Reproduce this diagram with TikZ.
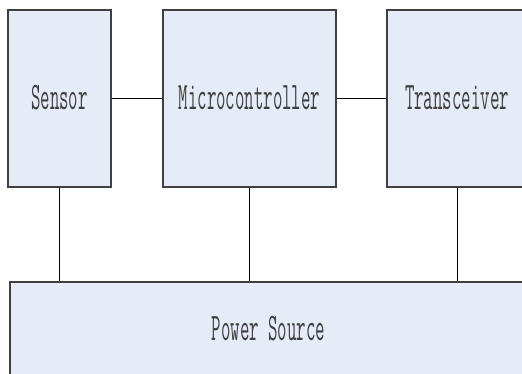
\documentclass[tikz,border=0pt]{standalone}
\usepackage{fontspec}
\newfontfamily\lblfont{Latin Modern Mono}[FakeStretch=0.47]
\definecolor{boxfill}{HTML}{E6ECF7}
\definecolor{boxline}{HTML}{404040}
\begin{document}
\begin{tikzpicture}[x=1pt,y=-1pt,
  blk/.style={draw=boxline, fill=boxfill, line width=1.4pt, inner sep=0pt,
    font=\lblfont\fontsize{39}{43}\selectfont, text=black!75},
  wire/.style={draw=black, line width=1pt}]
\useasboundingbox (0,0) rectangle (522,373);
\node[blk, minimum width=103pt, minimum height=177pt] (sensor) at (59.5,98.5) {\raisebox{2pt}{Sensor}};
\node[blk, minimum width=173pt, minimum height=177pt] (micro) at (249.5,98.5) {\raisebox{2pt}{Microcontroller}};
\node[blk, minimum width=140pt, minimum height=177pt] (trans) at (457,98.5) {\raisebox{2pt}{Transceiver}};
\node[blk, minimum width=517pt, minimum height=95pt] (power) at (268.5,329.5) {\raisebox{2pt}{Power Source}};
\draw[wire] (sensor.east) -- (micro.west);
\draw[wire] (micro.east) -- (trans.west);
\draw[wire] (sensor.south) -- (sensor.south |- power.north);
\draw[wire] (micro.south) -- (micro.south |- power.north);
\draw[wire] (trans.south) -- (trans.south |- power.north);
\end{tikzpicture}
\end{document}
